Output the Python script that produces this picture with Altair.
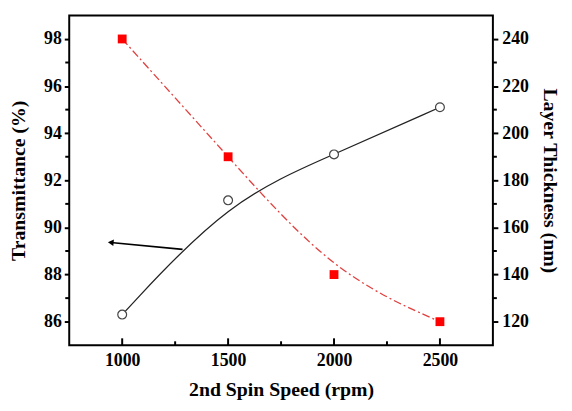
import altair as alt
import pandas as pd

# ---- data ----
speed = [1000, 1500, 2000, 2500]
transmittance = [86.3, 91.15, 93.1, 95.1]
thickness = [240, 190, 140, 120]

x_major = [1000, 1500, 2000, 2500]
x_minor = [1250, 1750, 2250]
left_major = [86, 88, 90, 92, 94, 96, 98]
left_minor = [87, 89, 91, 93, 95, 97]
right_major = [120, 140, 160, 180, 200, 220, 240]
right_minor = [130, 150, 170, 190, 210, 230]

arrow_x = [1285, 946]
arrow_y = [89.07, 89.36]

FONT = "Times New Roman, Liberation Serif, serif"
W, H = 429, 334

df = pd.DataFrame({"speed": speed, "T": transmittance, "L": thickness})
arrow_df = pd.DataFrame({"speed": arrow_x, "T": arrow_y})
head_df = arrow_df.iloc[[1]]

xscale = alt.Scale(domain=[750, 2750], nice=False, zero=False)
lscale = alt.Scale(domain=[85, 99], nice=False, zero=False)
rscale = alt.Scale(domain=[110, 250], nice=False, zero=False)

common = dict(labelFont=FONT, titleFont=FONT, labelFontWeight="bold", titleFontWeight="bold",
              labelColor="black", titleColor="black", tickColor="black", domain=False, grid=False,
              labelFontSize=18, titleFontSize=20, format="d")

x_axis = alt.Axis(title="2nd Spin Speed (rpm)", values=x_major, ticks=False,
                  labelPadding=7, titlePadding=10, **common)
left_axis = alt.Axis(title="Transmittance (%)", values=left_major, tickSize=5, tickWidth=2,
                     labelPadding=3, titlePadding=15, **common)
right_axis = alt.Axis(title="Layer Thickness (nm)", orient="right", values=right_major,
                      tickSize=5, tickWidth=2, labelPadding=4, titlePadding=11, **common)

X = alt.X("speed:Q", scale=xscale, axis=x_axis)
YL = alt.Y("T:Q", scale=lscale, axis=left_axis)
YR = alt.Y("L:Q", scale=rscale, axis=right_axis)

# left group
t_line = alt.Chart(df).mark_line(interpolate="basis", color="#222222", strokeWidth=1.3).encode(x=X, y=YL)
t_pts = alt.Chart(df).mark_point(shape="circle", filled=True, fill="white", stroke="#444444",
                                 strokeWidth=1.2, size=80, opacity=1).encode(x=X, y=YL)
arrow_line = alt.Chart(arrow_df).mark_line(color="black", strokeWidth=1.6).encode(x=X, y=YL)
arrow_head = alt.Chart(head_df).mark_point(shape="triangle-left", filled=True, color="black",
                                           size=45, angle=5, opacity=1).encode(x=X, y=YL)
lminor = alt.Chart(pd.DataFrame({"T": left_minor})).mark_rule(color="black", strokeWidth=2).encode(
    y=YL, x=alt.value(0), x2=alt.value(-4))
xmaj = alt.Chart(pd.DataFrame({"speed": x_major})).mark_rule(color="black", strokeWidth=2).encode(
    x=X, y=alt.value(H), y2=alt.value(H - 7))
xmin = alt.Chart(pd.DataFrame({"speed": x_minor})).mark_rule(color="black", strokeWidth=2).encode(
    x=X, y=alt.value(H), y2=alt.value(H - 4))

left_group = alt.layer(t_line, arrow_line, arrow_head, lminor, xmaj, xmin, t_pts)

# right group
l_line = alt.Chart(df).mark_line(interpolate="basis", color="#e0403f", strokeWidth=1.3,
                                 strokeDash=[8, 3, 2, 3]).encode(x=X, y=YR)
l_pts = alt.Chart(df).mark_point(shape="square", filled=True, color="#ff0000", size=80,
                                 opacity=1).encode(x=X, y=YR)
rminor = alt.Chart(pd.DataFrame({"L": right_minor})).mark_rule(color="black", strokeWidth=2).encode(
    y=YR, x=alt.value(W), x2=alt.value(W + 4))

right_group = alt.layer(l_line, rminor, l_pts)

chart = alt.layer(left_group, right_group).resolve_scale(y="independent").properties(
    width=W, height=H,
    autosize=alt.AutoSizeParams(type="none"),
    padding={"left": 62, "top": 5, "right": 72, "bottom": 56},
).configure_view(stroke="black", strokeWidth=2)

chart.save("out.html", embed_options={"renderer": "svg", "actions": False})
